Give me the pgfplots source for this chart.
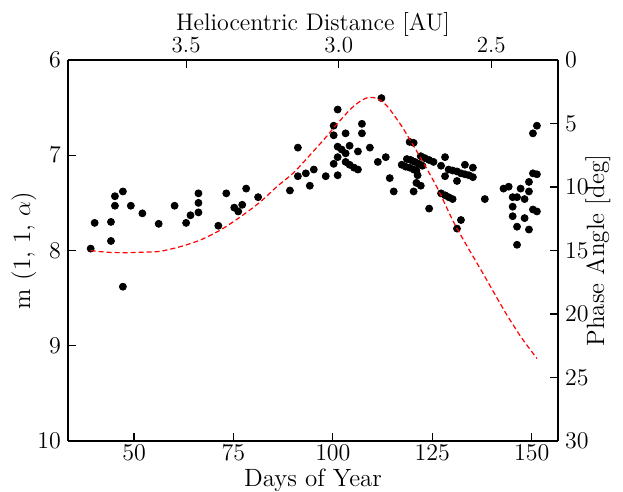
\documentclass[border=0pt]{standalone}
\usepackage{pgfplots}
\pgfplotsset{compat=1.18}
\begin{document}
\begin{tikzpicture}
\pgfplotsset{
  every axis/.append style={
    scale only axis, width=245pt, height=190.5pt,
    xmin=33.4, xmax=156.6,
    tick align=inside, major tick length=4pt,
    axis line style={line width=0.8pt}, every tick/.style={black, line width=0.6pt},
    tick label style={font=\fontsize{11.5}{13}\selectfont},
    label style={font=\fontsize{12.5}{14}\selectfont},
  }
}
\begin{axis}[name=ax,
  axis x line*=bottom, axis y line*=left,
  ymin=6, ymax=10, y dir=reverse,
  xtick={50,75,100,125,150}, ytick={6,7,8,9,10},
  xticklabel style={yshift=1.5pt},
  xlabel={Days of Year}, ylabel={m (1, 1, $\alpha$)},
  xlabel style={at={(axis description cs:0.5,0)}, anchor=base, yshift=-23pt},
  ylabel style={at={(axis description cs:-0.0898,0.5)}, anchor=center},
]
\addplot[only marks, mark=*, mark size=1.75pt, black] coordinates {
(39.1,7.98) (40.1,7.71) (44.2,7.70) (44.2,7.90) (45.2,7.43) (45.2,7.53)
(47.2,7.38) (47.2,8.38) (49.2,7.53) (52.1,7.61) (56.2,7.72) (60.2,7.53)
(63.1,7.71) (64.2,7.63) (66.2,7.40) (66.2,7.50) (66.2,7.60) (71.2,7.74)
(73.2,7.40) (75.2,7.55) (76.2,7.59) (77.2,7.52) (78.2,7.35) (81.2,7.44)
(89.2,7.37) (91.2,6.92) (91.2,7.22) (93.2,7.19) (94.2,7.32) (95.2,7.15)
(98.2,7.22)
(100.2,6.69) (100.2,6.79) (100.2,7.09) (101.2,6.52) (101.2,6.91) (101.2,7.02)
(101.2,7.21) (102.2,6.94) (103.2,6.98) (103.2,6.77) (104.2,6.90) (103.2,7.07)
(104.2,7.10) (105.3,7.13) (106.3,7.15) (106.3,6.96) (107.3,6.67) (107.3,6.77)
(109.3,6.92) (111.3,7.07) (112.2,6.40) (113.3,7.02) (114.3,7.24) (115.3,7.38)
(119.3,6.86) (120.3,6.87) (117.3,7.10) (118.3,7.12) (119.3,7.13) (120.3,7.15)
(121.0,7.16) (118.6,7.04) (119.6,7.05) (120.6,7.07) (121.6,7.09) (122.5,7.11)
(122.1,7.01) (123.1,7.03) (124.2,7.05) (125.3,7.07) (121.3,7.21) (120.3,7.38)
(121.0,7.29) (122.1,7.32) (124.2,7.56) (127.2,7.11) (128.2,7.02) (128.2,7.22)
(129.1,7.15) (130.1,7.16) (131.2,7.17) (132.2,7.19) (133.2,7.20) (134.2,7.21)
(135.2,7.23) (133.2,7.10) (135.2,7.13) (131.2,7.27) (127.2,7.40) (128.2,7.42)
(129.1,7.44) (130.1,7.46) (132.2,7.68) (131.2,7.77) (138.2,7.46)
(142.9,7.35) (144.2,7.33) (145.2,7.44) (146.3,7.44) (147.2,7.35) (148.2,7.46)
(149.3,7.38) (149.3,7.28) (150.3,7.19) (151.3,7.20) (150.3,7.57) (151.3,7.59)
(150.3,6.77) (151.3,6.69) (145.2,7.54) (145.2,7.64) (148.2,7.66) (146.3,7.75)
(149.3,7.78) (146.3,7.94)
};
\end{axis}
\begin{axis}[
  axis x line*=top, axis y line*=right,
  ymin=0, ymax=30, y dir=reverse,
  xtick={63.1,101.5,139.8}, xticklabels={3.5,3.0,2.5},
  ytick={0,5,...,30},
  xlabel={Heliocentric Distance [AU]}, ylabel={Phase Angle [deg]},
  xlabel style={at={(axis description cs:0.5,1)}, anchor=base, yshift=14.6pt, font=\fontsize{12}{14}\selectfont},
  ylabel style={at={(axis description cs:1.0816,0.5)}, anchor=center},
]
\addplot[red, line width=0.6pt, dash pattern=on 2.5pt off 1.5pt, smooth] coordinates {
(39.1,15.01) (44,15.15) (48.6,15.17) (52.5,15.13) (56.6,15.06) (61.6,14.7)
(66.7,14.17) (71.7,13.39) (76.8,12.34) (81.8,11.16) (86.0,9.95) (90.2,8.85)
(95.2,7.15) (98.6,5.95) (100.3,5.30) (102.0,4.70) (104.5,3.85) (107.0,3.22)
(109.1,2.94) (111.2,3.05) (113.7,3.65) (117.1,5.12) (119.6,6.40) (122.5,7.95)
(126.3,10.1) (130.3,12.73) (134.0,14.8) (138.1,17.0) (141,18.6) (144.0,20.2)
(147.5,21.9) (151.3,23.5)
};
\end{axis}
\pgfresetboundingbox
\path ([shift={(-34pt,-25.5pt)}]ax.south west) rectangle ([shift={(32.5pt,30pt)}]ax.north east);
\end{tikzpicture}
\end{document}
